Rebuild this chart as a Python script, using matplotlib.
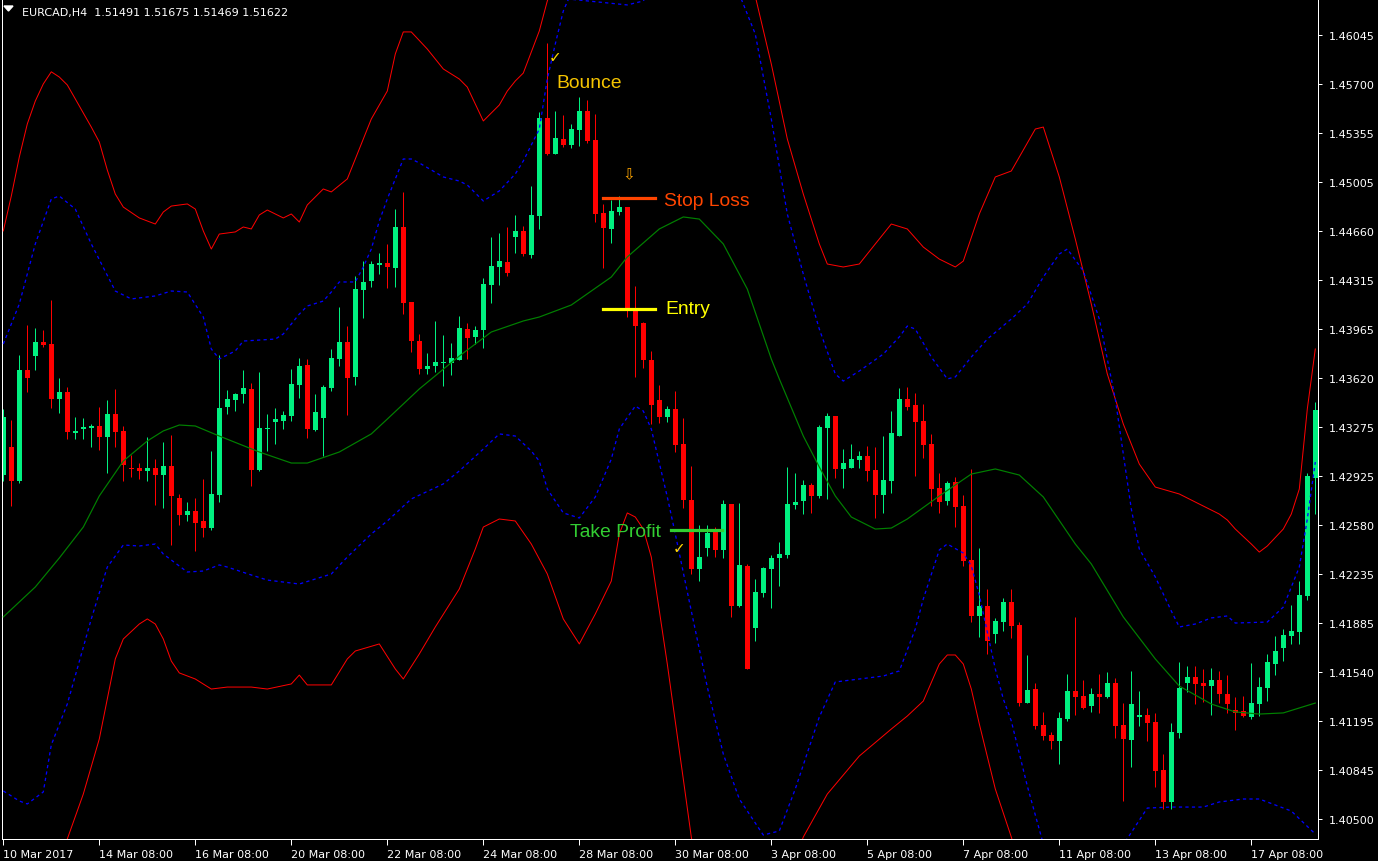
import matplotlib
matplotlib.use("Agg")
import matplotlib.pyplot as plt
from matplotlib.patches import Polygon

# EURCAD H4 candles (bar 0 = 10 Mar 2017 00:00)
opens = [
    1.42933, 1.43131, 1.42891, 1.43676, 1.43775, 1.43874, 1.43860, 1.43471, 1.43521, 1.43231,
    1.43259, 1.43266, 1.43280, 1.43202, 1.43365, 1.43245, 1.42983, 1.42983, 1.42962, 1.42983,
    1.42933, 1.42997, 1.42771, 1.42650, 1.42679, 1.42608, 1.42558, 1.42792, 1.43414, 1.43464,
    1.43506, 1.43542, 1.42969, 1.43257, 1.43308, 1.43315, 1.43351, 1.43570, 1.43712, 1.43252,
    1.43337, 1.43549, 1.43754, 1.43874, 1.43627, 1.44242, 1.44306, 1.44419, 1.44433, 1.44398,
    1.44688, 1.44157, 1.43881, 1.43683, 1.43705, 1.43726, 1.43726, 1.43747, 1.43966, 1.43910,
    1.43959, 1.44278, 1.44405, 1.44440, 1.44617, 1.44660, 1.44490, 1.44766, 1.45459, 1.45204,
    1.45311, 1.45268, 1.45374, 1.45509, 1.45303, 1.44787, 1.44674, 1.44794, 1.44829, 1.44108,
    1.44009, 1.43747, 1.43464, 1.43344, 1.43400, 1.43153, 1.42757, 1.42268, 1.42417, 1.42530,
    1.42403, 1.42728, 1.42006, 1.42290, 1.41851, 1.42099, 1.42268, 1.42346, 1.42367, 1.42721,
    1.42749, 1.42863, 1.42785, 1.43266, 1.43351, 1.42976, 1.42983, 1.43039, 1.43068, 1.42969,
    1.42792, 1.42891, 1.43209, 1.43471, 1.43429, 1.43315, 1.43153, 1.42841, 1.42749, 1.42884,
    1.42714, 1.42332, 1.41936, 1.42006, 1.41808, 1.41893, 1.42035, 1.41872, 1.41320, 1.41419,
    1.41164, 1.41094, 1.41051, 1.41207, 1.41405, 1.41370, 1.41299, 1.41384, 1.41363, 1.41462,
    1.41164, 1.41058, 1.41221, 1.41235, 1.41186, 1.40846, 1.40620, 1.41108, 1.41462, 1.41504,
    1.41462, 1.41440, 1.41483, 1.41384, 1.41271, 1.41264, 1.41221, 1.41313, 1.41426, 1.41596,
    1.41709, 1.41794, 1.41823, 1.42077, 1.42912,
]
highs = [
    1.43400, 1.43322, 1.43782, 1.43995, 1.43973, 1.43959, 1.44171, 1.43620, 1.43556, 1.43344,
    1.43337, 1.43294, 1.43414, 1.43464, 1.43542, 1.43280, 1.43075, 1.43018, 1.43202, 1.43046,
    1.43167, 1.43216, 1.42799, 1.42742, 1.42771, 1.42905, 1.43103, 1.43782, 1.43535, 1.43513,
    1.43676, 1.43584, 1.43662, 1.43365, 1.43407, 1.43386, 1.43683, 1.43761, 1.43754, 1.43506,
    1.43570, 1.43825, 1.44122, 1.43987, 1.44341, 1.44447, 1.44447, 1.44504, 1.44568, 1.44815,
    1.44936, 1.44157, 1.43931, 1.43797, 1.44023, 1.43924, 1.43867, 1.44058, 1.44009, 1.43987,
    1.44327, 1.44617, 1.44645, 1.44688, 1.44773, 1.44695, 1.44978, 1.45501, 1.45990, 1.45509,
    1.45480, 1.45417, 1.45608, 1.45586, 1.45487, 1.44851, 1.44879, 1.44907, 1.44829, 1.44270,
    1.44016, 1.43811, 1.43570, 1.43421, 1.43528, 1.43337, 1.42997, 1.42580, 1.42580, 1.42565,
    1.42757, 1.42728, 1.42735, 1.42304, 1.42198, 1.42282, 1.42367, 1.42459, 1.42990, 1.42947,
    1.42898, 1.42877, 1.43287, 1.43372, 1.43351, 1.43117, 1.43153, 1.43103, 1.43139, 1.43131,
    1.43209, 1.43386, 1.43549, 1.43556, 1.43513, 1.43436, 1.43224, 1.42947, 1.42891, 1.42919,
    1.42792, 1.42976, 1.42417, 1.42127, 1.41922, 1.42063, 1.42127, 1.41893, 1.41660, 1.41462,
    1.41257, 1.41115, 1.41257, 1.41525, 1.41929, 1.41483, 1.41426, 1.41525, 1.41539, 1.41497,
    1.41320, 1.41547, 1.41405, 1.41285, 1.41250, 1.40959, 1.41179, 1.41610, 1.41582, 1.41582,
    1.41561, 1.41568, 1.41547, 1.41518, 1.41363, 1.41370, 1.41603, 1.41504, 1.41667, 1.41794,
    1.41844, 1.42014, 1.42183, 1.42947, 1.43450,
]
lows = [
    1.42891, 1.42714, 1.42877, 1.43521, 1.43676, 1.43839, 1.43407, 1.43372, 1.43188, 1.43188,
    1.43188, 1.43131, 1.43110, 1.42947, 1.43131, 1.42891, 1.42919, 1.42905, 1.42891, 1.42721,
    1.42700, 1.42438, 1.42580, 1.42608, 1.42396, 1.42495, 1.42544, 1.42742, 1.43365, 1.43386,
    1.43443, 1.42855, 1.42962, 1.43103, 1.43153, 1.43259, 1.43315, 1.43478, 1.43195, 1.43245,
    1.43068, 1.43528, 1.43705, 1.43358, 1.43570, 1.44044, 1.44263, 1.44355, 1.44256, 1.44263,
    1.44072, 1.43804, 1.43648, 1.43648, 1.43662, 1.43563, 1.43641, 1.43747, 1.43754, 1.43860,
    1.43832, 1.44150, 1.44278, 1.44341, 1.44504, 1.44483, 1.44469, 1.44674, 1.45197, 1.45204,
    1.45254, 1.45247, 1.45261, 1.45282, 1.44723, 1.44398, 1.44575, 1.44773, 1.44051, 1.43627,
    1.43690, 1.43294, 1.43301, 1.43308, 1.43096, 1.42700, 1.42233, 1.42183, 1.42360, 1.42353,
    1.42346, 1.41929, 1.41999, 1.41561, 1.41759, 1.42070, 1.41992, 1.42148, 1.42346, 1.42693,
    1.42657, 1.42665, 1.42771, 1.42764, 1.42912, 1.42841, 1.42983, 1.42983, 1.42891, 1.42629,
    1.42665, 1.42806, 1.43209, 1.43393, 1.42926, 1.43053, 1.42714, 1.42665, 1.42721, 1.42565,
    1.42290, 1.41893, 1.41787, 1.41667, 1.41745, 1.41830, 1.41780, 1.41299, 1.41320, 1.41136,
    1.41058, 1.40995, 1.40889, 1.41193, 1.41235, 1.41278, 1.41257, 1.41250, 1.41356, 1.41072,
    1.40627, 1.40867, 1.41157, 1.41051, 1.40726, 1.40570, 1.40570, 1.41072, 1.41398, 1.41313,
    1.41327, 1.41235, 1.41320, 1.41250, 1.41129, 1.41221, 1.41207, 1.41228, 1.41334, 1.41518,
    1.41617, 1.41738, 1.41738, 1.42049, 1.42657,
]
closes = [
    1.43344, 1.42891, 1.43676, 1.43620, 1.43874, 1.43853, 1.43471, 1.43521, 1.43238, 1.43245,
    1.43273, 1.43280, 1.43202, 1.43365, 1.43238, 1.43004, 1.42976, 1.42962, 1.42983, 1.42933,
    1.42997, 1.42785, 1.42650, 1.42679, 1.42594, 1.42558, 1.42799, 1.43407, 1.43471, 1.43506,
    1.43549, 1.42969, 1.43266, 1.43261, 1.43329, 1.43358, 1.43577, 1.43705, 1.43259, 1.43379,
    1.43556, 1.43761, 1.43874, 1.43620, 1.44249, 1.44299, 1.44426, 1.44433, 1.44405, 1.44688,
    1.44150, 1.43881, 1.43683, 1.43705, 1.43733, 1.43733, 1.43761, 1.43973, 1.43903, 1.43959,
    1.44285, 1.44412, 1.44447, 1.44363, 1.44660, 1.44497, 1.44773, 1.45459, 1.45204, 1.45318,
    1.45268, 1.45381, 1.45509, 1.45296, 1.44780, 1.44681, 1.44801, 1.44829, 1.44108, 1.43987,
    1.43747, 1.43429, 1.43344, 1.43400, 1.43146, 1.42757, 1.42268, 1.42353, 1.42523, 1.42403,
    1.42728, 1.42006, 1.42297, 1.41561, 1.42106, 1.42275, 1.42346, 1.42374, 1.42728, 1.42742,
    1.42863, 1.42785, 1.43273, 1.43351, 1.42976, 1.43018, 1.43046, 1.43068, 1.42962, 1.42792,
    1.42898, 1.43231, 1.43471, 1.43414, 1.43308, 1.43146, 1.42834, 1.42742, 1.42877, 1.42707,
    1.42325, 1.41936, 1.42006, 1.41759, 1.41900, 1.42035, 1.41865, 1.41320, 1.41412, 1.41157,
    1.41087, 1.41051, 1.41214, 1.41405, 1.41363, 1.41285, 1.41384, 1.41363, 1.41462, 1.41157,
    1.41065, 1.41313, 1.41235, 1.41179, 1.40839, 1.40620, 1.41115, 1.41426, 1.41504, 1.41455,
    1.41440, 1.41483, 1.41384, 1.41313, 1.41250, 1.41228, 1.41320, 1.41433, 1.41610, 1.41688,
    1.41801, 1.41830, 1.42084, 1.42926, 1.43393,
]

# indicator lines: (bar index, price) pairs
ma_idx = [0, 4, 7, 10, 12, 15, 18, 20, 22, 24, 27, 32, 36, 38, 42, 46, 48, 52, 57, 61,
          65, 67, 71, 76, 78, 82, 85, 87, 90, 93, 96, 97, 100, 102, 104, 106, 109, 111, 113, 117,
          121, 124, 127, 130, 134, 136, 140, 144, 147, 151, 154, 157, 160, 164]
ma_val = [1.41929, 1.42141, 1.42346, 1.42565, 1.42785, 1.43032, 1.43174, 1.43245, 1.43287, 1.43280,
          1.43209, 1.43096, 1.43018, 1.43018, 1.43096, 1.43224, 1.43329, 1.43542, 1.43775, 1.43945,
          1.44023, 1.44051, 1.44136, 1.44334, 1.44476, 1.44674, 1.44759, 1.44744, 1.44568, 1.44249,
          1.43754, 1.43613, 1.43209, 1.42990, 1.42785, 1.42636, 1.42551, 1.42558, 1.42622, 1.42785,
          1.42940, 1.42976, 1.42933, 1.42778, 1.42445, 1.42304, 1.41929, 1.41632, 1.41440, 1.41313,
          1.41257, 1.41242, 1.41250, 1.41320]

up_blue_idx = [0, 2, 4, 6, 7, 9, 11, 14, 16, 19, 21, 23, 25, 26, 27, 29, 30, 34, 35, 37,
               38, 40, 41, 42, 44, 45, 46, 47, 48, 50, 51, 52, 55, 57, 58, 60, 62, 64, 65, 67,
               68, 69, 70, 72, 75, 77, 78, 80, 82, 86, 90, 92, 94, 96, 98, 100, 102, 104, 105, 107,
               110, 112, 113, 114, 116, 118, 119, 121, 123, 126, 128, 130, 132, 133, 135, 137, 139, 141, 142, 144,
               146, 147, 149, 151, 153, 154, 158, 160, 162, 163, 164]
up_blue_val = [1.43860, 1.44143, 1.44568, 1.44886, 1.44907, 1.44815, 1.44568, 1.44235, 1.44179, 1.44200,
               1.44235, 1.44228, 1.44051, 1.43825, 1.43754, 1.43811, 1.43881, 1.43895, 1.43931, 1.44072,
               1.44129, 1.44164, 1.44228, 1.44299, 1.44299, 1.44405, 1.44532, 1.44730, 1.44886, 1.45169,
               1.45169, 1.45141, 1.45042, 1.45013, 1.44985, 1.44872, 1.44943, 1.45063, 1.45155, 1.45381,
               1.45735, 1.45983, 1.46216, 1.46478, 1.46407, 1.46301, 1.46259, 1.46287, 1.46478, 1.46619,
               1.46513, 1.46336, 1.46053, 1.45452, 1.44780, 1.44355, 1.43966, 1.43648, 1.43598, 1.43669,
               1.43789, 1.43910, 1.43987, 1.43966, 1.43768, 1.43613, 1.43627, 1.43768, 1.43895, 1.44037,
               1.44143, 1.44334, 1.44497, 1.44532, 1.44377, 1.44037, 1.43471, 1.42693, 1.42410, 1.42212,
               1.41971, 1.41858, 1.41879, 1.41922, 1.41936, 1.41886, 1.41893, 1.41999, 1.42282, 1.42622,
               1.43025]

lo_blue_idx = [0, 2, 3, 5, 6, 8, 11, 13, 14, 15, 17, 19, 20, 23, 25, 27, 28, 31, 33, 37,
               41, 43, 46, 48, 51, 55, 57, 60, 62, 64, 66, 67, 68, 70, 72, 74, 76, 77, 79, 80,
               81, 83, 84, 86, 88, 90, 92, 95, 97, 99, 102, 104, 107, 110, 112, 114, 115, 117, 118, 120,
               121, 122, 123, 124, 125, 126, 128, 130, 133, 136, 139, 143, 146, 150, 152, 155, 157, 161, 164]
lo_blue_val = [1.40698, 1.40627, 1.40606, 1.40691, 1.41024, 1.41313, 1.41915, 1.42282, 1.42360, 1.42438,
               1.42431, 1.42445, 1.42374, 1.42247, 1.42254, 1.42297, 1.42282, 1.42226, 1.42190, 1.42162,
               1.42233, 1.42353, 1.42516, 1.42608, 1.42764, 1.42870, 1.42962, 1.43117, 1.43224, 1.43209,
               1.43103, 1.43032, 1.42834, 1.42665, 1.42629, 1.42778, 1.43046, 1.43259, 1.43421, 1.43386,
               1.43259, 1.42778, 1.42516, 1.41971, 1.41433, 1.40959, 1.40641, 1.40386, 1.40415, 1.40712,
               1.41221, 1.41469, 1.41490, 1.41511, 1.41547, 1.41844, 1.42056, 1.42403, 1.42445, 1.42381,
               1.42290, 1.42084, 1.41823, 1.41561, 1.41349, 1.41193, 1.40733, 1.40323, 1.40146, 1.40075,
               1.40231, 1.40577, 1.40584, 1.40584, 1.40620, 1.40641, 1.40641, 1.40556, 1.40393]

up_red_idx = [0, 1, 2, 3, 4, 5, 6, 7, 8, 9, 11, 12, 13, 14, 15, 17, 19, 20, 21, 23,
              24, 25, 26, 27, 29, 30, 31, 32, 33, 35, 36, 37, 38, 40, 41, 43, 44, 46, 48, 49,
              50, 51, 53, 55, 57, 58, 60, 62, 63, 64, 65, 67, 68, 70, 75, 80, 85, 90, 93, 94,
              96, 98, 100, 102, 103, 105, 107, 109, 111, 113, 115, 117, 119, 120, 122, 124, 126, 127, 129, 130,
              132, 134, 136, 138, 140, 142, 144, 147, 149, 152, 153, 154, 156, 157, 158, 160, 161, 162, 163, 164]
up_red_val = [1.44660, 1.44907, 1.45183, 1.45417, 1.45579, 1.45700, 1.45786, 1.45749, 1.45693, 1.45594,
              1.45395, 1.45289, 1.45091, 1.44921, 1.44829, 1.44752, 1.44709, 1.44794, 1.44836, 1.44851,
              1.44815, 1.44660, 1.44532, 1.44638, 1.44653, 1.44688, 1.44674, 1.44773, 1.44808, 1.44752,
              1.44780, 1.44723, 1.44844, 1.44957, 1.44936, 1.45028, 1.45169, 1.45452, 1.45650, 1.45912,
              1.46068, 1.46068, 1.45947, 1.45806, 1.45735, 1.45678, 1.45438, 1.45551, 1.45650, 1.45721,
              1.45777, 1.46075, 1.46287, 1.46584, 1.46796, 1.46867, 1.46796, 1.46655, 1.46407, 1.46320,
              1.45841, 1.45311, 1.44921, 1.44568, 1.44426, 1.44405, 1.44426, 1.44568, 1.44709, 1.44674,
              1.44546, 1.44461, 1.44405, 1.44447, 1.44780, 1.45042, 1.45084, 1.45183, 1.45381, 1.45395,
              1.45042, 1.44603, 1.44143, 1.43648, 1.43294, 1.43011, 1.42848, 1.42799, 1.42742, 1.42657,
              1.42615, 1.42551, 1.42445, 1.42388, 1.42431, 1.42551, 1.42657, 1.42834, 1.43400, 1.43825]

lo_red_idx = [0, 4, 8, 10, 12, 13, 14, 15, 17, 18, 19, 20, 21, 22, 24, 26, 28, 31, 33, 36,
              37, 38, 41, 43, 44, 47, 49, 50, 52, 54, 57, 59, 60, 62, 64, 66, 68, 70, 72, 74,
              76, 77, 78, 79, 80, 81, 83, 85, 86, 88, 92, 96, 99, 100, 103, 107, 111, 113, 115, 117,
              118, 119, 120, 121, 122, 124, 126, 128, 132, 140, 150, 158, 164]
lo_red_val = [1.39226, 1.40075, 1.40358, 1.40676, 1.41066, 1.41349, 1.41632, 1.41773, 1.41879, 1.41915,
              1.41879, 1.41773, 1.41617, 1.41533, 1.41490, 1.41419, 1.41433, 1.41433, 1.41419, 1.41455,
              1.41518, 1.41448, 1.41448, 1.41632, 1.41688, 1.41738, 1.41561, 1.41490, 1.41667, 1.41858,
              1.42127, 1.42410, 1.42565, 1.42622, 1.42608, 1.42445, 1.42233, 1.41915, 1.41738, 1.41950,
              1.42183, 1.42516, 1.42665, 1.42636, 1.42551, 1.42353, 1.41596, 1.40782, 1.40372, 1.39792,
              1.39368, 1.39580, 1.40217, 1.40372, 1.40676, 1.40945, 1.41136, 1.41228, 1.41334, 1.41596,
              1.41660, 1.41660, 1.41596, 1.41419, 1.41172, 1.40712, 1.40372, 1.40004, 1.39580, 1.39297,
              1.39509, 1.39721, 1.40287]

date_ticks = [0, 12, 24, 36, 48, 60, 72, 84, 96, 108, 120, 132, 144, 156]
date_labels = ["10 Mar 2017", "14 Mar 08:00", "16 Mar 08:00", "20 Mar 08:00", "22 Mar 08:00",
               "24 Mar 08:00", "28 Mar 08:00", "30 Mar 08:00", "3 Apr 08:00", "5 Apr 08:00",
               "7 Apr 08:00", "11 Apr 08:00", "13 Apr 08:00", "17 Apr 08:00"]
price_ticks = [1.46045, 1.45700, 1.45355, 1.45005, 1.44660, 1.44315, 1.43965, 1.43620, 1.43275,
               1.42925, 1.42580, 1.42235, 1.41885, 1.41540, 1.41195, 1.40845, 1.40500]

header = "EURCAD,H4  1.51491 1.51675 1.51469 1.51622"

# trade levels marked on the chart
stop_loss = 1.44893
entry = 1.44108
take_profit = 1.42544

# ---------------------------------------------------------------------------
W, H = 1378, 862
plt.rcParams['font.family'] = ['DejaVu Sans']
plt.rcParams['path.simplify'] = False
fig = plt.figure(figsize=(W / 100, H / 100), dpi=100, facecolor='black')
ax = fig.add_axes([2 / W, 22 / H, 1316 / W, 840 / H])
ax.set_facecolor('black')

BULL = '#00F080'
BEAR = '#FF0000'
PX = 0.72  # one pixel in points

xs = list(range(len(opens)))
cols = [BULL if c >= o else BEAR for o, c in zip(opens, closes)]
ax.vlines(xs, lows, highs, colors=cols, linewidth=PX, zorder=2)
bottoms = [min(o, c) for o, c in zip(opens, closes)]
heights = [max(abs(c - o), 0.00008) for o, c in zip(opens, closes)]
ax.bar(xs, heights, bottom=bottoms, width=0.625, color=cols, linewidth=0, zorder=2)

# bands and moving average
ax.plot(up_red_idx, up_red_val, color='#FF0000', lw=PX, zorder=3)
ax.plot(lo_red_idx, lo_red_val, color='#FF0000', lw=PX, zorder=3)
ax.plot(up_blue_idx, up_blue_val, color='#0000FF', lw=PX * 1.3, ls=(0, (2.5, 2.5)), zorder=3)
ax.plot(lo_blue_idx, lo_blue_val, color='#0000FF', lw=PX * 1.3, ls=(0, (2.5, 2.5)), zorder=3)
ax.plot(ma_idx, ma_val, color='#008000', lw=PX * 1.2, zorder=3)

# trade annotations
ann_font = ['Liberation Sans', 'DejaVu Sans']
ax.plot([75.0, 81.5], [stop_loss, stop_loss], color='#FF4500', lw=2.3, zorder=5)
ax.plot([75.0, 81.5], [entry, entry], color='#FFFF00', lw=2.3, zorder=5)
ax.plot([83.4, 89.8], [take_profit, take_profit], color='#32CD32', lw=2.3, zorder=5)
ax.text(69.15, 1.45675, "Bounce", color='#F5C400', fontsize=13.9, family=ann_font,
        va='baseline', ha='left', zorder=6)
ax.text(82.6, 1.44844, "Stop Loss", color='#FF4500', fontsize=13.9, family=ann_font,
        va='baseline', ha='left', zorder=6)
ax.text(82.7, 1.44076, "Entry", color='#FFFF00', fontsize=13.9, family=ann_font,
        va='baseline', ha='left', zorder=6)
ax.text(82.2, 1.42502, "Take Profit", color='#32CD32', fontsize=13.9, family=ann_font,
        va='baseline', ha='right', zorder=6)
ax.text(68.96, 1.45891, "\u2713", color='#FFD700', fontsize=11, ha='center', va='center', zorder=6)
ax.text(84.5, 1.42420, "\u2713", color='#FFD700', fontsize=11, ha='center', va='center', zorder=6)
ax.text(78.15, 1.45066, "\u21E9", color='#FFA500', fontsize=11, ha='center', va='center', zorder=6)

ax.set_xlim(-0.1625, 164.3375)
ax.set_ylim(1.40358, 1.46301)

# MT4 style axes
ax.yaxis.tick_right()
ax.set_yticks(price_ticks)
ax.set_yticklabels([f"{p:.5f}" for p in price_ticks])
ax.set_xticks(date_ticks)
ax.set_xticklabels(date_labels)
for lab in ax.get_xticklabels():
    lab.set_horizontalalignment('left')
ax.tick_params(axis='y', colors='white', direction='out', length=3, width=PX, pad=4.5, labelsize=8)
ax.tick_params(axis='x', colors='white', direction='out', length=4, width=PX, pad=3.2, labelsize=8)
for side in ('right', 'bottom', 'left'):
    ax.spines[side].set_color('white')
    ax.spines[side].set_linewidth(PX)
ax.spines['top'].set_visible(False)

# header with the small symbol triangle
tri = [(4 / W, 1 - 7 / H), (13 / W, 1 - 7 / H), (8.5 / W, 1 - 12 / H)]
fig.add_artist(Polygon(tri, closed=True, transform=fig.transFigure, color='white'))
fig.text(22 / W, 1 - 13 / H, header, color='white', fontsize=8, ha='left', va='center')

fig.savefig('out.png', dpi=100, facecolor='black')
